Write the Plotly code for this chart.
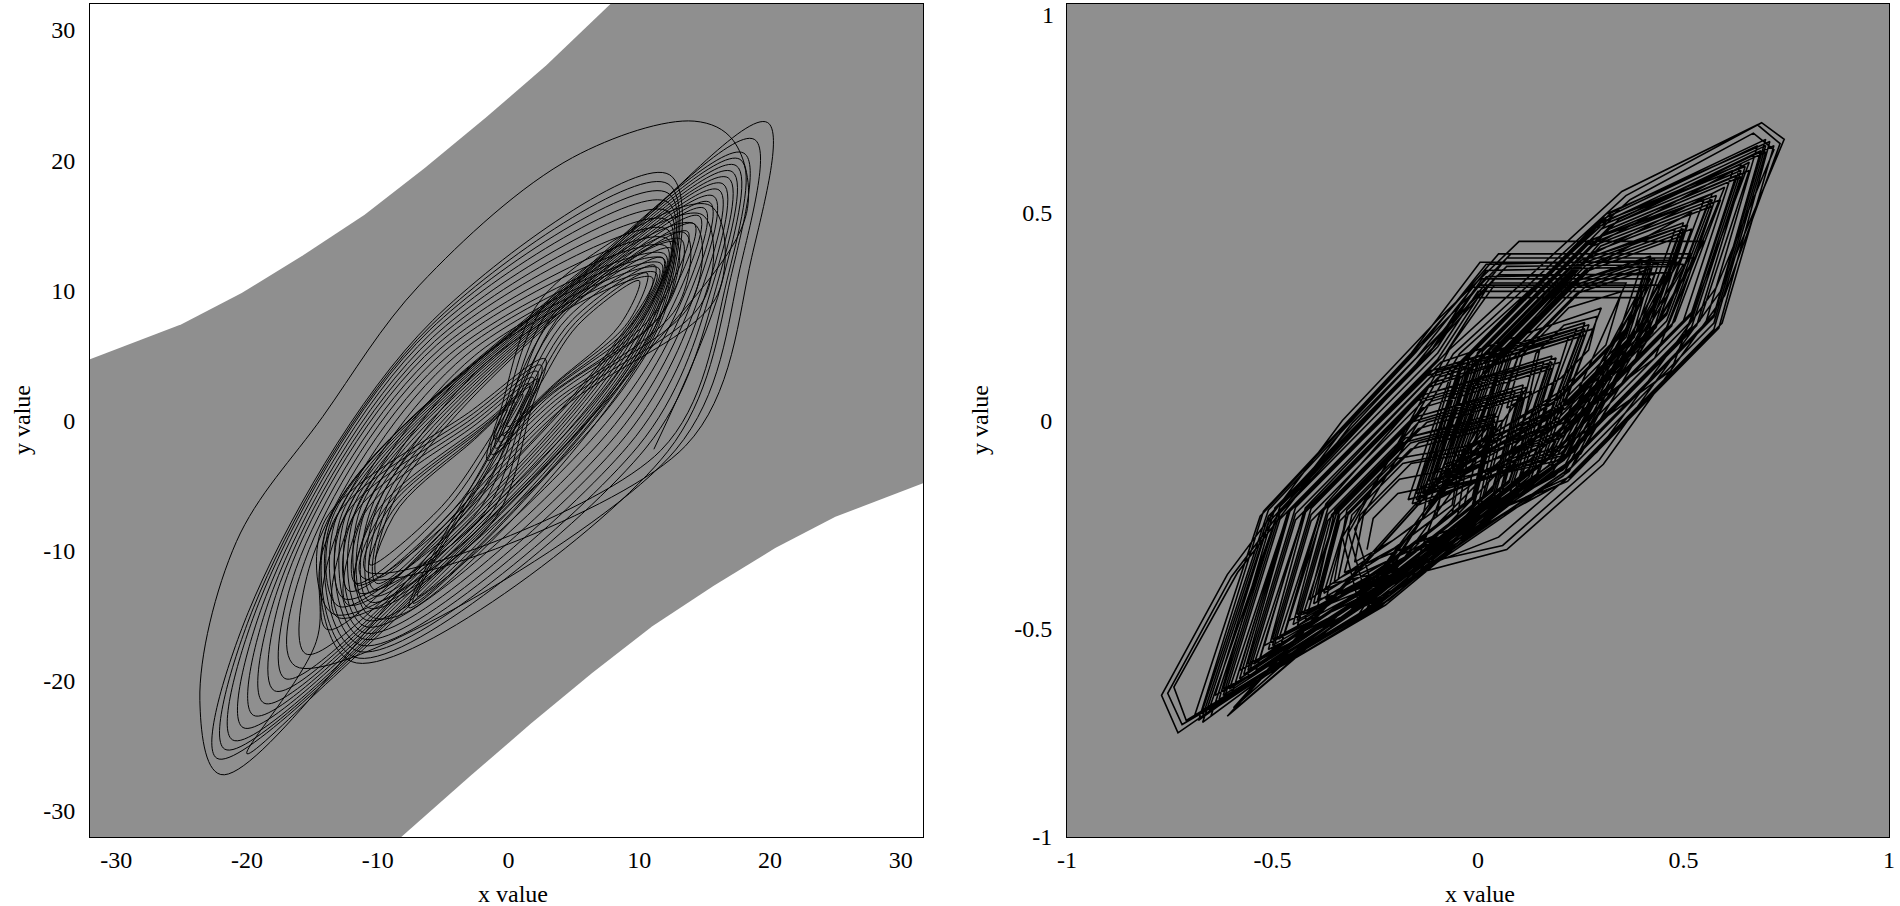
import plotly.graph_objects as go

GRAY = "#8f8f8f"

# ---- left panel: white (out-of-basin) regions, boundary ----
white_tl_x = [-32, -32, -25, -20.4, -15.7, -11, -6.4, -1.7, 2.9, 7.8]
white_tl_y = [32, 4.7, 7.4, 9.8, 12.7, 15.8, 19.4, 23.3, 27.3, 32]
white_br_x = [32, 32, 25, 20.4, 15.7, 11, 6.4, 1.7, -2.9, -8.2]
white_br_y = [-32, -4.7, -7.4, -9.8, -12.7, -15.8, -19.4, -23.3, -27.3, -32]

# ---- left panel trajectory (vertices, drawn as spline) ----
left_traj = [
    # run A (lower wing)
    (-10.2,-10.61), (-8.3,-6.6), (-2.6,-1.46), (-0.1,0.83), (-1.48,-1.46), (-5.1,-6.6),
    (-10.6,-11.09), (-8.69,-6.71), (-2.32,-1.08), (0.5,1.42), (-0.92,-1.08), (-4.69,-6.71),
    (-11.7,-12.50), (-11.0,-7.13), (-2.4,-0.23), (1.6,2.84), (0.4,-0.23), (-3.0,-7.13),
    (-12.6,-13.68), (-12.62,-7.57), (-2.58,0.29), (2.2,3.78), (1.06,0.29), (-2.22,-7.57),
    (-11.5,-13.21), (-10.38,-7.16), (-1.13,4.93), (11.0,10.98), (7.38,4.93), (-3.68,-7.16),
    (-13.9,-16.04), (-13.25,-9.02), (-3.25,5.02), (11.7,12.04), (8.05,5.02), (-4.45,-9.02),
    (-17.1,-19.82), (-16.25,-11.38), (-5.25,5.49), (12.2,13.93), (9.25,5.49), (-5.65,-11.38),
    (-20.3,-23.59), (-18.55,-13.51), (-5.95,6.67), (12.2,16.76), (10.75,6.67), (-6.95,-13.51),
    # run B (upper wing)
    (1.4,0.95), (2.5,2.91), (5.3,7.32), (10.0,10.74), (8.5,7.32), (3.62,2.91),
    (0.9,0.48), (2.04,2.65), (5.13,7.53), (10.6,11.33), (9.13,7.53), (3.44,2.65),
    (-0.4,-1.17), (0.79,1.80), (4.29,8.49), (12.8,13.69), (11.89,8.49), (3.45,1.80),
    (-1.0,-2.12), (0.1,1.33), (3.59,9.08), (14.2,15.11), (13.99,9.08), (3.74,1.33),
    (-10.0,-12.03), (-8.38,-5.39), (3.68,7.88), (13.7,14.52), (11.08,7.88), (4.0,-1.41),
    (-10.4,-13.45), (-9.8,-6.01), (4.2,8.86), (15.0,16.29), (13.1,8.86), (6.28,-1.55),
    (-10.9,-15.33), (-11.7,-6.96), (4.6,9.8), (16.4,18.18), (15.1,9.8), (9.16,-1.93),
    (-11.4,-17.22), (-13.3,-7.9), (5.0,10.74), (17.7,20.07), (16.7,10.74), (11.64,-2.31),
    # run C (lower wing)
    (-10.9,-11.56), (-9.17,-6.8), (-2.08,-0.70), (1.1,2.01), (-0.32,-0.70), (-4.17,-6.8),
    (-12.2,-13.09), (-11.83,-7.35), (-2.49,0.03), (1.9,3.31), (0.73,0.03), (-2.63,-7.35),
    (-12.3,-14.15), (-11.4,-7.78), (-1.9,4.96), (11.3,11.33), (7.6,4.96), (-3.9,-7.78),
    (-22,-27.2), (-23.6,-21.5), (-20.8,-9.3), (-14.2,0.3), (-6.8,10.4), (4.9,20.2), (14.2,23),
    (17.2,21.5), (18.2,15.9), (10,4.49), (-3,-9.67), (-14,-20.29), (-20,-25.6),
    (-14.7,-16.99), (-14.08,-9.64), (-3.93,5.05), (11.9,12.4), (8.28,5.05), (-4.78,-9.64),
    (-17.9,-20.76), (-16.9,-11.91), (-5.5,5.79), (12.2,14.64), (9.7,5.79), (-5.9,-11.91),
    (-21.1,-24.54), (-19.1,-14.04), (-6.0,6.97), (12.2,17.47), (11.1,6.97), (-7.3,-14.04),
    # run D (upper wing)
    (0.4,0.01), (1.58,2.39), (4.92,7.76), (11.2,11.92), (9.72,7.76), (3.26,2.39),
    (-0.1,-0.47), (1.1,2.13), (4.6,7.97), (11.8,12.51), (10.4,7.97), (3.1,2.13),
    (-0.7,-1.65), (0.44,1.56), (3.94,8.79), (13.5,14.40), (12.94,8.79), (3.6,1.56),
    (-1.3,-2.59), (-0.25,1.09), (3.19,9.38), (14.8,15.82), (14.99,9.38), (3.89,1.09),
    (-10.1,-12.5), (-8.85,-5.60), (3.85,8.21), (14.2,15.11), (11.75,8.21), (4.76,-1.46),
    (-10.6,-13.92), (-10.3,-6.25), (4.3,9.09), (15.4,16.76), (13.6,9.09), (7.0,-1.65),
    (-11.0,-15.81), (-12.1,-7.19), (4.7,10.04), (16.8,18.65), (15.5,10.04), (9.88,-2.02),
    (-11.6,-17.69), (-13.7,-8.14), (5.1,10.98), (18.0,20.54), (17.0,10.98), (12.16,-2.40),
    (-12.0,-18.52), (-13.9,-8.17), (7.3,12.54), (19.8,22.9), (18.6,12.54), (13.54,-1.95),
    # run E (lower wing)
    (-11.2,-12.03), (-9.56,-6.91), (-1.78,-0.32), (1.7,2.6), (0.22,-0.32), (-3.76,-6.91),
    (-11.6,-12.62), (-10.11,-7.09), (-1.57,0.03), (2.3,3.19), (0.81,0.03), (-3.31,-7.09),
    (-13.0,-14.27), (-13.4,-7.78), (-2.67,0.55), (2.5,4.25), (1.39,0.55), (-1.8,-7.78),
    (-13.4,-14.86), (-14.19,-8.01), (-2.76,0.81), (2.8,4.73), (1.72,0.81), (-1.39,-8.01),
    (-13.1,-15.1), (-12.33,-8.4), (-2.58,4.99), (11.5,11.69), (7.83,4.99), (-4.13,-8.4),
    (-15.5,-17.93), (-14.9,-10.26), (-4.5,5.08), (12.0,12.75), (8.5,5.08), (-5.1,-10.26),
    (-18.7,-21.71), (-17.45,-12.44), (-5.65,6.08), (12.2,15.35), (10.05,6.08), (-6.25,-12.44),
    (-21.7,-25.25), (-19.5,-14.39), (-5.9,7.32), (12.2,18.18), (11.4,7.32), (-7.6,-14.39),
    # run F (upper wing)
    (-0.6,-0.94), (0.61,1.89), (4.35,8.27), (12.5,13.22), (11.15,8.27), (2.99,1.89),
    (-1.1,-1.41), (0.1,1.66), (4.0,8.56), (13.2,13.93), (12.0,8.56), (2.9,1.66),
    (-1.6,-3.06), (-0.59,0.86), (2.79,9.67), (15.4,16.53), (15.99,9.67), (4.03,0.86),
    (-10.3,-12.97), (-9.33,-5.81), (4.03,8.53), (14.6,15.7), (12.43,8.53), (5.52,-1.50),
    (-10.7,-14.39), (-10.8,-6.48), (4.4,9.33), (15.7,17.23), (14.1,9.33), (7.72,-1.74),
    (-11.1,-16.28), (-12.5,-7.43), (4.8,10.27), (17.1,19.12), (15.9,10.27), (10.5,-2.12),
    (-11.8,-18.17), (-13.9,-8.22), (6.1,11.66), (18.8,21.6), (17.7,11.66), (12.78,-2.26),
    # run G (lower wing)
    (-16.3,-18.87), (-15.58,-10.82), (-4.93,5.29), (12.1,13.34), (8.88,5.29), (-5.38,-10.82),
    (-19.5,-22.65), (-18.0,-12.97), (-5.8,6.38), (12.2,16.05), (10.4,6.38), (-6.6,-12.97),
    (-22.3,-25.95), (-19.9,-14.74), (-5.8,7.68), (12.3,18.89), (11.7,7.68), (-7.8,-14.74),
    # run H (upper wing)
    (-10.8,-14.86), (-11.3,-6.72), (4.5,9.56), (16.1,17.71), (14.6,9.56), (8.44,-1.83),
    (-11.2,-16.75), (-12.9,-7.66), (4.9,10.51), (17.4,19.59), (16.3,10.51), (11.12,-2.21),
]

# ---- right panel trajectory (polygonal, vertices) ----
right_traj = [
    # run 1
    (-0.27,-0.31), (-0.255,-0.235), (-0.195,-0.175), (-0.12,-0.16), (-0.135,-0.235), (-0.204,-0.286),
    (-0.30,-0.34), (-0.279,-0.229), (-0.191,-0.141), (-0.08,-0.12), (-0.101,-0.231), (-0.203,-0.306),
    (-0.34,-0.38), (-0.307,-0.227), (-0.183,-0.103), (-0.03,-0.07), (-0.063,-0.223), (-0.205,-0.329),
    (-0.40,-0.44), (-0.348,-0.214), (-0.176,-0.042), (0.05,0.01), (-0.002,-0.216), (-0.197,-0.366),
    (-0.50,-0.54), (-0.406,-0.226), (-0.134,0.046), (0.18,0.14), (0.076,-0.164), (-0.226,-0.406),
    (-0.62,-0.66), (-0.482,-0.222), (-0.098,0.162), (0.0,0.31), (0.40,0.31), (0.172,-0.108), (-0.26,-0.44),
    # run 2
    (0.12,0.08), (0.141,0.161), (0.209,0.229), (0.29,0.25), (0.269,0.169), (0.201,0.101),
    (0.07,0.03), (0.109,0.159), (0.221,0.271), (0.35,0.31), (0.311,0.181), (0.199,0.069),
    (-0.04,-0.08), (0.047,0.157), (0.263,0.373), (0.50,0.46), (0.413,0.223), (0.197,0.007),
    (-0.13,-0.17), (-0.032,0.152), (0.288,0.472), (0.65,0.61), (0.532,0.228), (0.212,-0.092),
    (-0.29,-0.44), (-0.33,-0.28), (-0.06,0.16), (0.36,0.54), (0.69,0.715), (0.745,0.675), (0.59,0.31), (0.295,-0.095), (0.06,-0.30),
    # run 3
    (-0.35,-0.39), (-0.319,-0.215), (-0.195,-0.091), (-0.02,-0.06), (-0.051,-0.235), (-0.193,-0.341),
    (-0.44,-0.48), (-0.365,-0.225), (-0.145,-0.005), (0.11,0.07), (0.035,-0.185), (-0.212,-0.378),
    (-0.56,-0.60), (-0.444,-0.224), (-0.116,0.104), (0.26,0.22), (0.124,-0.136), (-0.237,-0.431),
    (-0.67,-0.71), (-0.51,-0.23), (-0.15,0.15), (0.02,0.36), (0.47,0.37), (0.21,-0.11), (-0.29,-0.45),
    (-0.73,-0.75), (-0.77,-0.66), (-0.61,-0.37), (-0.33,0.0), (-0.10,0.24), (0.10,0.43), (0.55,0.43), (0.25,-0.08), (-0.29,-0.44), (-0.61,-0.71),
    # run 4
    (0.02,-0.02), (0.08,0.16), (0.24,0.32), (0.42,0.38), (0.36,0.20), (0.20,0.04),
    (-0.09,-0.13), (-0.001,0.163), (0.267,0.431), (0.58,0.54), (0.471,0.227), (0.203,-0.041),
    (-0.15,-0.19), (-0.044,0.116), (0.324,0.484), (0.70,0.66), (0.574,0.234), (0.206,-0.134),
    (-0.27,-0.43), (-0.315,-0.27), (-0.07,0.17), (0.35,0.55), (0.68,0.71), (0.735,0.665), (0.60,0.30), (0.305,-0.105), (0.07,-0.31),
    # run 5
    (-0.39,-0.43), (-0.336,-0.226), (-0.164,-0.054), (0.04,0.0), (-0.014,-0.204), (-0.209,-0.354),
    (-0.45,-0.49), (-0.377,-0.213), (-0.157,0.007), (0.12,0.08), (0.047,-0.197), (-0.200,-0.390),
    (-0.51,-0.55), (-0.418,-0.214), (-0.146,0.058), (0.19,0.15), (0.088,-0.176), (-0.214,-0.418),
    (-0.63,-0.67), (-0.494,-0.21), (-0.11,0.174), (-0.015,0.32), (0.415,0.32), (0.184,-0.12), (-0.248,-0.452),
    (-0.655,-0.695), (-0.49,-0.23), (-0.13,0.15), (0.05,0.35), (0.43,0.35), (0.21,-0.09), (-0.29,-0.43),
    # run 6
    (0.01,-0.03), (0.068,0.172), (0.228,0.332), (0.43,0.39), (0.372,0.188), (0.212,0.028),
    (-0.05,-0.09), (0.035,0.169), (0.251,0.385), (0.51,0.47), (0.425,0.211), (0.209,-0.005),
    (-0.08,-0.12), (0.011,0.151), (0.279,0.419), (0.57,0.53), (0.459,0.239), (0.191,-0.029),
    (-0.12,-0.16), (-0.02,0.14), (0.30,0.46), (0.64,0.60), (0.52,0.24), (0.20,-0.08),
    (-0.16,-0.20), (-0.056,0.128), (0.312,0.496), (0.71,0.67), (0.586,0.222), (0.218,-0.146),
    # run 7
    (-0.325,-0.365), (-0.287,-0.227), (-0.163,-0.103), (-0.042,-0.082), (-0.063,-0.203), (-0.205,-0.309),
    (-0.375,-0.415), (-0.316,-0.226), (-0.144,-0.054), (0.028,-0.012), (-0.014,-0.184), (-0.209,-0.334),
    (-0.485,-0.525), (-0.386,-0.226), (-0.114,0.046), (0.168,0.128), (0.076,-0.144), (-0.226,-0.386),
    (-0.57,-0.61), (-0.456,-0.212), (-0.128,0.116), (0.27,0.23), (0.136,-0.148), (-0.225,-0.443),
    (-0.72,-0.73), (-0.755,-0.655), (-0.60,-0.375), (-0.32,-0.01), (-0.09,0.23), (0.08,0.40), (0.52,0.40), (0.24,-0.07), (-0.28,-0.43), (-0.60,-0.70),
    # run 8
    (0.035,-0.005), (0.10,0.16), (0.26,0.32), (0.408,0.368), (0.36,0.22), (0.20,0.06),
    (-0.025,-0.065), (0.067,0.157), (0.283,0.373), (0.488,0.448), (0.413,0.243), (0.197,0.027),
    (-0.105,-0.145), (0.0,0.14), (0.32,0.46), (0.628,0.588), (0.52,0.26), (0.20,-0.06),
    (-0.135,-0.175), (-0.024,0.116), (0.344,0.484), (0.688,0.648), (0.574,0.254), (0.206,-0.114),
    (-0.25,-0.42), (-0.30,-0.26), (-0.045,0.16), (0.37,0.53), (0.67,0.69), (0.72,0.65), (0.58,0.32), (0.29,-0.075), (0.05,-0.28),
    # run 9
    (-0.425,-0.465), (-0.345,-0.225), (-0.125,-0.005), (0.098,0.058), (0.035,-0.165), (-0.212,-0.358),
    (-0.545,-0.585), (-0.424,-0.224), (-0.096,0.104), (0.248,0.208), (0.124,-0.116), (-0.237,-0.411),
    (-0.605,-0.645), (-0.462,-0.222), (-0.078,0.162), (0.03,0.33), (0.36,0.33), (0.172,-0.088), (-0.26,-0.42),
    (-0.68,-0.72), (-0.522,-0.218), (-0.162,0.162), (0.005,0.38), (0.485,0.38), (0.222,-0.122), (-0.278,-0.462),
    (-0.71,-0.72), (-0.74,-0.64), (-0.585,-0.365), (-0.305,-0.005), (-0.075,0.225), (0.07,0.37), (0.50,0.375), (0.23,-0.07), (-0.285,-0.42), (-0.595,-0.69),
    # run 10
    (-0.065,-0.105), (0.031,0.151), (0.299,0.419), (0.558,0.518), (0.459,0.259), (0.191,-0.009),
    # run 11
    (-0.41,-0.43), (-0.356,-0.226), (-0.184,-0.054), (0.02,0.0), (-0.034,-0.204), (-0.229,-0.354),
    (-0.42,-0.48), (-0.345,-0.225), (-0.125,-0.005), (0.13,0.07), (0.055,-0.185), (-0.192,-0.378),
    (-0.52,-0.54), (-0.426,-0.226), (-0.154,0.046), (0.16,0.14), (0.056,-0.164), (-0.246,-0.406),
    (-0.54,-0.60), (-0.424,-0.224), (-0.096,0.104), (0.28,0.22), (0.144,-0.136), (-0.217,-0.431),
    (-0.64,-0.66), (-0.502,-0.222), (-0.118,0.162), (0.01,0.34), (0.42,0.34), (0.152,-0.108), (-0.28,-0.44),
    (-0.65,-0.71), (-0.49,-0.23), (-0.13,0.15), (0.07,0.39), (0.53,0.39), (0.23,-0.11), (-0.27,-0.45),
    # run 12
    (0.0,-0.02), (0.06,0.16), (0.22,0.32), (0.40,0.38), (0.34,0.20), (0.18,0.04),
    (-0.02,-0.08), (0.067,0.157), (0.283,0.373), (0.52,0.46), (0.433,0.223), (0.217,0.007),
    (-0.10,-0.12), (-0.009,0.151), (0.259,0.419), (0.55,0.53), (0.439,0.239), (0.171,-0.029),
    (-0.10,-0.16), (0.0,0.14), (0.32,0.46), (0.66,0.60), (0.54,0.24), (0.22,-0.08),
    (-0.17,-0.19), (-0.064,0.116), (0.304,0.484), (0.68,0.66), (0.554,0.234), (0.186,-0.134),
    # run 13
    (-0.37,-0.43), (-0.316,-0.226), (-0.144,-0.054), (0.06,0.0), (0.006,-0.204), (-0.189,-0.354),
    (-0.46,-0.48), (-0.385,-0.225), (-0.165,-0.005), (0.09,0.07), (0.015,-0.185), (-0.232,-0.378),
    (-0.48,-0.54), (-0.386,-0.226), (-0.114,0.046), (0.20,0.14), (0.096,-0.164), (-0.206,-0.406),
    (-0.58,-0.60), (-0.464,-0.224), (-0.136,0.104), (0.24,0.22), (0.104,-0.136), (-0.257,-0.431),
    (-0.60,-0.66), (-0.462,-0.222), (-0.078,0.162), (0.04,0.325), (0.44,0.325), (0.192,-0.108), (-0.24,-0.44),
    (-0.69,-0.71), (-0.53,-0.23), (-0.17,0.15), (0.05,0.40), (0.50,0.40), (0.19,-0.11), (-0.31,-0.45),
    # run 14
    (0.04,-0.02), (0.10,0.16), (0.26,0.32), (0.44,0.38), (0.38,0.20), (0.22,0.04),
    (-0.06,-0.08), (0.027,0.157), (0.243,0.373), (0.48,0.46), (0.393,0.223), (0.177,0.007),
    (-0.06,-0.12), (0.031,0.151), (0.299,0.419), (0.59,0.53), (0.479,0.239), (0.211,-0.029),
    (-0.14,-0.16), (-0.04,0.14), (0.28,0.46), (0.62,0.60), (0.50,0.24), (0.18,-0.08),
    (-0.13,-0.19), (-0.024,0.116), (0.344,0.484), (0.72,0.66), (0.594,0.234), (0.226,-0.134),
    # run 15
    (-0.39,-0.415), (-0.336,-0.211), (-0.164,-0.039), (0.04,0.015), (-0.014,-0.189), (-0.209,-0.339),
    (-0.44,-0.495), (-0.365,-0.24), (-0.145,-0.02), (0.11,0.055), (0.035,-0.2), (-0.212,-0.393),
    (-0.50,-0.525), (-0.406,-0.211), (-0.134,0.061), (0.18,0.155), (0.076,-0.149), (-0.226,-0.391),
    (-0.56,-0.615), (-0.444,-0.239), (-0.116,0.089), (0.26,0.205), (0.124,-0.151), (-0.237,-0.446),
    (-0.62,-0.645), (-0.482,-0.207), (-0.098,0.177), (0.0,0.325), (0.40,0.325), (0.172,-0.093), (-0.26,-0.425),
    (-0.67,-0.725), (-0.51,-0.245), (-0.15,0.135), (0.02,0.345), (0.47,0.355), (0.21,-0.125), (-0.29,-0.465),
    # run 16
    (0.02,-0.005), (0.08,0.175), (0.24,0.335), (0.42,0.395), (0.36,0.215), (0.20,0.055),
    (-0.04,-0.095), (0.047,0.142), (0.263,0.358), (0.50,0.445), (0.413,0.208), (0.197,-0.008),
    (-0.08,-0.105), (0.011,0.166), (0.279,0.434), (0.57,0.545), (0.459,0.254), (0.191,-0.014),
    (-0.12,-0.175), (-0.02,0.125), (0.30,0.445), (0.64,0.585), (0.52,0.225), (0.20,-0.095),
    (-0.15,-0.175), (-0.044,0.131), (0.324,0.499), (0.70,0.675), (0.574,0.249), (0.206,-0.119),
    # run 17
    (-0.39,-0.445), (-0.336,-0.241), (-0.164,-0.069), (0.04,-0.015), (-0.014,-0.219), (-0.209,-0.369),
    (-0.44,-0.465), (-0.365,-0.21), (-0.145,0.01), (0.11,0.085), (0.035,-0.17), (-0.212,-0.363),
    (-0.50,-0.555), (-0.406,-0.241), (-0.134,0.031), (0.18,0.125), (0.076,-0.179), (-0.226,-0.421),
    (-0.56,-0.585), (-0.444,-0.209), (-0.116,0.119), (0.26,0.235), (0.124,-0.121), (-0.237,-0.416),
    (-0.62,-0.675), (-0.482,-0.237), (-0.098,0.147), (0.0,0.295), (0.40,0.295), (0.172,-0.123), (-0.26,-0.455),
    (-0.67,-0.695), (-0.51,-0.215), (-0.15,0.165), (0.02,0.375), (0.47,0.385), (0.21,-0.095), (-0.29,-0.435),
    # run 18
    (0.02,-0.035), (0.08,0.145), (0.24,0.305), (0.42,0.365), (0.36,0.185), (0.20,0.025),
    (-0.04,-0.065), (0.047,0.172), (0.263,0.388), (0.50,0.475), (0.413,0.238), (0.197,0.022),
    (-0.08,-0.135), (0.011,0.136), (0.279,0.404), (0.57,0.515), (0.459,0.224), (0.191,-0.044),
    (-0.12,-0.145), (-0.02,0.155), (0.30,0.475), (0.64,0.615), (0.52,0.255), (0.20,-0.065),
    (-0.15,-0.205), (-0.044,0.101), (0.324,0.469), (0.70,0.645), (0.574,0.219), (0.206,-0.149),
    # run 19
    (-0.47,-0.51), (-0.37,-0.20), (-0.12,0.08), (0.15,0.17), (0.10,-0.05), (-0.20,-0.35),
    (-0.53,-0.57), (-0.42,-0.21), (-0.10,0.12), (0.22,0.20), (0.15,-0.02), (-0.18,-0.36),
    (-0.58,-0.62), (-0.46,-0.22), (-0.09,0.14), (0.30,0.27), (0.20,0.02), (-0.16,-0.37),
    # run 20
    (-0.06,-0.10), (0.02,0.12), (0.26,0.36), (0.52,0.50), (0.38,0.14), (0.12,-0.10),
    (-0.10,-0.15), (0.0,0.10), (0.28,0.40), (0.60,0.56), (0.43,0.15), (0.14,-0.07),
    (-0.12,-0.20), (-0.01,0.08), (0.30,0.43), (0.66,0.62), (0.47,0.12), (0.10,-0.14),
]

left_x = [p[0] for p in left_traj]
left_y = [p[1] for p in left_traj]
right_x = [p[0] for p in right_traj]
right_y = [p[1] for p in right_traj]

left_ticks = [-30, -20, -10, 0, 10, 20, 30]
left_tick_text = ["-30", "-20", "-10", "0", "10", "20", "30"]
right_xticks = [-1, -0.5, 0, 0.5, 1]
right_xtick_text = ["-1", "-0.5", "0", "0.5", "1"]
right_yticks = [-1, -0.5, 0, 0.5]
right_ytick_text = ["-1", "-0.5", "0", "0.5"]

FONT = dict(family="Liberation Serif, Times New Roman, serif", size=24, color="black")

fig = go.Figure()
for wx, wy in ((white_tl_x, white_tl_y), (white_br_x, white_br_y)):
    fig.add_trace(go.Scatter(x=wx, y=wy, fill="toself", fillcolor="white",
                             line=dict(width=0), mode="lines", hoverinfo="skip",
                             xaxis="x", yaxis="y", showlegend=False))
fig.add_trace(go.Scatter(x=left_x, y=left_y, mode="lines",
                         line=dict(color="black", width=1, shape="spline", smoothing=1.0),
                         xaxis="x", yaxis="y", showlegend=False))
fig.add_trace(go.Scatter(x=right_x, y=right_y, mode="lines",
                         line=dict(color="black", width=1.6),
                         xaxis="x2", yaxis="y2", showlegend=False))

base = dict(showline=True, mirror=True, linecolor="black", linewidth=1,
            showgrid=False, zeroline=False, automargin=False,
            tickcolor="rgba(0,0,0,0)", tickfont=FONT, ticks="outside")

fig.update_layout(
    width=1900, height=906,
    paper_bgcolor="white", plot_bgcolor=GRAY,
    margin=dict(l=0, r=0, t=4, b=69),
    font=FONT,
    xaxis=dict(domain=[90/1900, 923/1900], range=[-32, 31.7], tickvals=left_ticks,
               ticktext=left_tick_text, anchor="y", ticklen=1, **base),
    yaxis=dict(domain=[0, 1], range=[-32, 32], tickvals=left_ticks,
               ticktext=left_tick_text, anchor="x", ticklen=9, **base),
    xaxis2=dict(domain=[1067/1900, 1889/1900], range=[-1, 1], tickvals=right_xticks,
                ticktext=right_xtick_text, anchor="y2", ticklen=1, **base),
    yaxis2=dict(domain=[0, 1], range=[-1, 1], tickvals=right_yticks,
                ticktext=right_ytick_text, anchor="x2", ticklen=9, **base),
)

annots = [
    dict(text="x value", x=513/1900, y=(837-894)/833),
    dict(text="x value", x=1480/1900, y=(837-894)/833),
    dict(text="y value", x=22/1900, y=(837-420)/833, textangle=-90),
    dict(text="y value", x=980/1900, y=(837-420)/833, textangle=-90),
]
for a in annots:
    fig.add_annotation(xref="paper", yref="paper", showarrow=False, font=FONT,
                       xanchor="center", yanchor="middle", **a)
fig.add_annotation(xref="paper", yref="paper", showarrow=False, font=FONT,
                   text="1", x=1056/1900, y=(837-15)/833, xanchor="right", yanchor="middle")

fig.write_html("out.html", config={"displayModeBar": False},
               post_script="document.body.style.margin='0';document.body.style.overflow='hidden';")
